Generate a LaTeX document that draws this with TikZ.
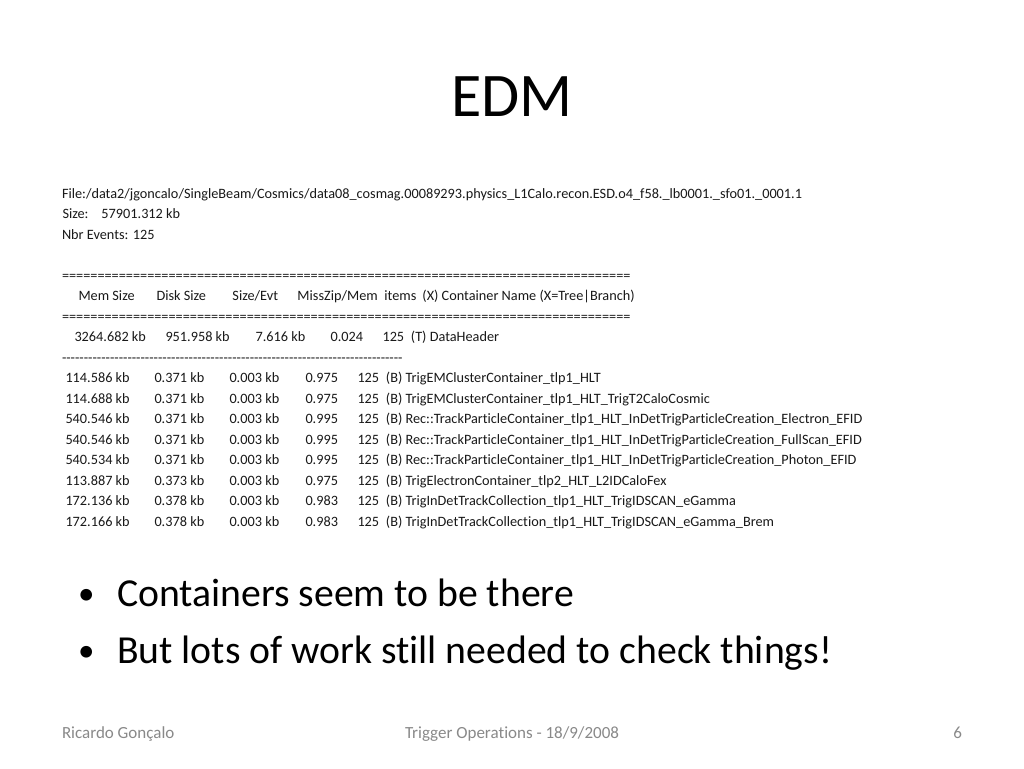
\documentclass[tikz,border=0pt]{standalone}
\usepackage{fontspec}
\newfontfamily\calib[Ligatures={NoCommon,NoRequired,NoContextual}]{Carlito}
\definecolor{footgray}{RGB}{137,137,137}
\newcommand{\cellat}[2]{\rlap{\hspace*{#1pt}#2}}
\newcommand{\datarow}[5]{\cellat{0}{#1}\cellat{89}{#2}\cellat{164}{#3}\cellat{240}{#4}\cellat{292}{125\hspace{3.5pt} (B) #5}}
\tikzset{
  x=1pt,y=-1pt,
  every node/.style={inner sep=0pt,outer sep=0pt,font=\calib},
  small/.style={anchor=base west,font=\calib\fontsize{14.27}{16}\selectfont,text=black!90},
  bigtext/.style={anchor=base west,font=\calib\fontsize{39.7}{44}\selectfont},
  bulletmark/.style={anchor=base west,font=\calib\fontsize{33}{40}\selectfont},
  foot/.style={anchor=base,font=\calib\fontsize{17}{20}\selectfont,text=footgray}
}
\begin{document}
\begin{tikzpicture}
\useasboundingbox[fill=white] (0,0) rectangle (1024,768);
\node[anchor=base,font=\calib\fontsize{62}{68}\selectfont] (title) at (512,116) {EDM};
\node[small] (file) at (62,198) {File:/data2/jgoncalo/SingleBeam/Cosmics/data08\_cosmag.00089293.physics\_L1Calo.recon.ESD.o4\_f58.\_lb0001.\_sfo01.\_0001.1};
\node[small] (size) at (62,218) {\cellat{0}{Size:}\cellat{39}{57901.312 kb}};
\node[small] (nbr) at (62,239) {Nbr Events: 125};
\node[small] (eqa) at (62,280) {================================================================================};
\node[small] (head) at (62,300) {\cellat{16}{Mem Size}\cellat{94}{Disk Size}\cellat{170}{Size/Evt}\cellat{235}{MissZip/Mem}\cellat{322}{items}\cellat{360}{(X) Container Name (X=Tree|Branch)}};
\node[small] (eqb) at (62,321) {================================================================================};
\node[small] (dh) at (62,341) {\cellat{12}{3264.682 kb}\cellat{103}{951.958 kb}\cellat{193}{7.616 kb}\cellat{268}{0.024}\cellat{320}{125\hspace{3.5pt} (T) DataHeader}};
\node[small] (dash) at (62,362) {------------------------------------------------------------------------------};
\node[small] (r1) at (65,382) {\datarow{114.586 kb}{0.371 kb}{0.003 kb}{0.975}{TrigEMClusterContainer\_tlp1\_HLT}};
\node[small] (r2) at (65,403) {\datarow{114.688 kb}{0.371 kb}{0.003 kb}{0.975}{TrigEMClusterContainer\_tlp1\_HLT\_TrigT2CaloCosmic}};
\node[small] (r3) at (65,423) {\datarow{540.546 kb}{0.371 kb}{0.003 kb}{0.995}{Rec::TrackParticleContainer\_tlp1\_HLT\_InDetTrigParticleCreation\_Electron\_EFID}};
\node[small] (r4) at (65,444) {\datarow{540.546 kb}{0.371 kb}{0.003 kb}{0.995}{Rec::TrackParticleContainer\_tlp1\_HLT\_InDetTrigParticleCreation\_FullScan\_EFID}};
\node[small] (r5) at (65,464) {\datarow{540.534 kb}{0.371 kb}{0.003 kb}{0.995}{Rec::TrackParticleContainer\_tlp1\_HLT\_InDetTrigParticleCreation\_Photon\_EFID}};
\node[small] (r6) at (65,485) {\datarow{113.887 kb}{0.373 kb}{0.003 kb}{0.975}{TrigElectronContainer\_tlp2\_HLT\_L2IDCaloFex}};
\node[small] (r7) at (65,505) {\datarow{172.136 kb}{0.378 kb}{0.003 kb}{0.983}{TrigInDetTrackCollection\_tlp1\_HLT\_TrigIDSCAN\_eGamma}};
\node[small] (r8) at (65,526) {\datarow{172.166 kb}{0.378 kb}{0.003 kb}{0.983}{TrigInDetTrackCollection\_tlp1\_HLT\_TrigIDSCAN\_eGamma\_Brem}};
\node[bulletmark] (b1m) at (78,604) {•};
\node[bigtext] (b1) at (117,606) {Containers seem to be there};
\node[bulletmark] (b2m) at (78,661) {•};
\node[bigtext] (b2) at (117,663) {But lots of work still needed to check things!};
\node[foot,anchor=base west] (fa) at (62,738) {Ricardo Gonçalo};
\node[foot] (fb) at (512,738) {Trigger Operations - 18/9/2008};
\node[foot,anchor=base east] (fc) at (962,738) {6};
\end{tikzpicture}
\end{document}
